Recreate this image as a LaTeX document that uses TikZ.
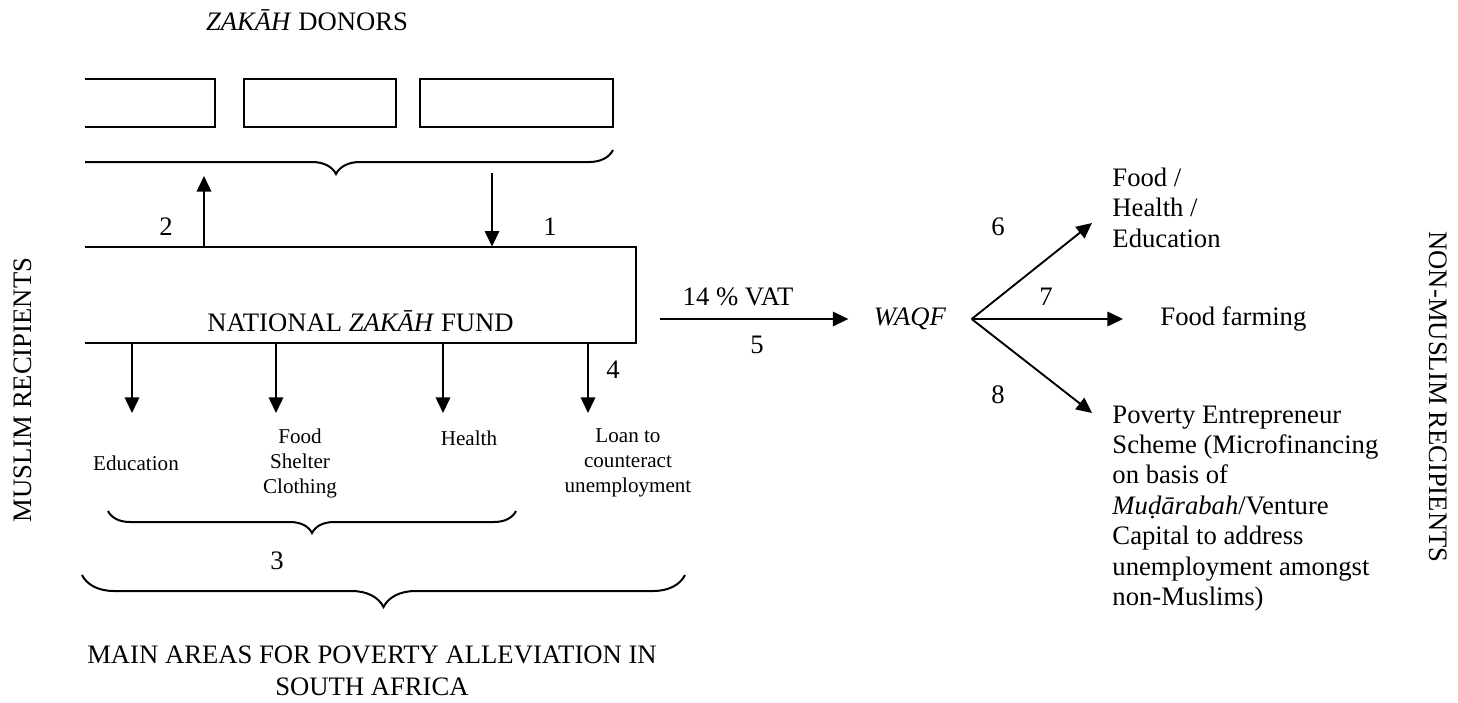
\documentclass[tikz,border=0pt,12pt]{standalone}
\usepackage{fontspec}
\setmainfont{Liberation Serif}
\usetikzlibrary{arrows.meta, decorations.pathreplacing}

\begin{document}
\begin{tikzpicture}[x=0.45pt, y=-0.45pt,
    arr/.style={line width=0.85pt, -{Triangle[length=7pt, width=6.5pt]}},
    box/.style={draw, line width=0.9pt, minimum height=21.6pt, inner sep=0pt},
    brc/.style={line width=0.9pt, decorate, decoration={brace, amplitude=#1}},
    small/.style={font=\fontsize{9.5}{11.25}\selectfont, align=center},
    rtext/.style={anchor=west, align=left, inner sep=0pt, font=\fontsize{12}{13.7}\selectfont}]
    \useasboundingbox (0,0) rectangle (1458,702);

    % donors
    \node (donors) at (307,20) {\textit{ZAKĀH} DONORS};
    \node[minimum width=58.5pt, minimum height=21.6pt, inner sep=0pt] (d1) at (150,103) {};
    \draw[line width=0.9pt] (d1.north west) -- (d1.north east) -- (d1.south east) -- (d1.south west);
    \node[box, minimum width=68.4pt] (d2) at (320,103) {};
    \node[box, minimum width=86.85pt] (d3) at (516.5,103) {};
    \begin{scope}
        \clip (85,140) rectangle (700,190);
        \draw[brc=10.8pt] (613,150) -- (59,150);
    \end{scope}

    % fund
    \node[minimum width=247.95pt, minimum height=43.2pt, inner sep=0pt] (fund) at (360.5,295) {};
    \draw[line width=0.9pt] (fund.north west) -- (fund.north east) -- (fund.south east) -- (fund.south west);
    \node (fundname) at ([yshift=-12pt]fund.center) {NATIONAL \textit{ZAKĀH} FUND};

    \coordinate (up2) at (204,176);
    \coordinate (down1) at (492,173);
    \draw[arr] (fund.north -| up2) -- (up2);
    \draw[arr] (down1) -- (down1 |- fund.north);
    \node at (166,227) {2};
    \node at (550,227) {1};

    % main areas
    \coordinate (a1) at (132,413);
    \coordinate (a2) at (276,413);
    \coordinate (a3) at (443,413);
    \coordinate (a4) at (588,413);
    \draw[arr] (fund.south -| a1) -- (a1);
    \draw[arr] (fund.south -| a2) -- (a2);
    \draw[arr] (fund.south -| a3) -- (a3);
    \draw[arr] (fund.south -| a4) -- (a4);
    \node at (613,370) {4};

    \node[small] (edu) at (136,463) {Education};
    \node[small] (fsc) at (300,463) {Food\\Shelter\\Clothing};
    \node[small] (hea) at (469,438) {Health};
    \node[small] (loan) at (628,463) {Loan to\\counteract\\unemployment};

    \draw[brc=9.9pt] (516,511) -- (108,511);
    \node at (277,561) {3};
    \draw[brc=14.4pt] (685,575) -- (82,575);
    \node[align=center] (areas) at (372,671) {MAIN AREAS FOR POVERTY ALLEVIATION IN\\SOUTH AFRICA};

    \node[rotate=90] (muslim) at (23,390) {MUSLIM RECIPIENTS};
    \node[rotate=-90] (nonmuslim) at (1438,397) {NON-MUSLIM RECIPIENTS};

    % waqf
    \node[inner xsep=11.25pt, inner ysep=0pt] (waqf) at (910,319) {\textit{WAQF}};
    \coordinate (vat) at (660,319);
    \draw[arr] (vat) -- (waqf.west);
    \node at (738,297) {14 \% VAT};
    \node at (757,345) {5};

    \coordinate (t6) at (1092,223);
    \coordinate (t7) at (1123,319);
    \coordinate (t8) at (1092,413);
    \draw[arr] (waqf.east) -- (t6);
    \draw[arr] (waqf.east) -- (t7);
    \draw[arr] (waqf.east) -- (t8);
    \node at (998,227) {6};
    \node at (1046,297) {7};
    \node at (998,395) {8};

    \node[rtext] (fhe) at (1112,207.5) {Food /\\Health /\\Education};
    \node[rtext] (farming) at (1160,319) {Food farming};
    \node[rtext] (pes) at (1112,508.5) {Poverty Entrepreneur\\Scheme (Microfinancing\\on basis of\\\textit{Muḍārabah}/Venture\\Capital to address\\unemployment amongst\\non-Muslims)};
\end{tikzpicture}
\end{document}
